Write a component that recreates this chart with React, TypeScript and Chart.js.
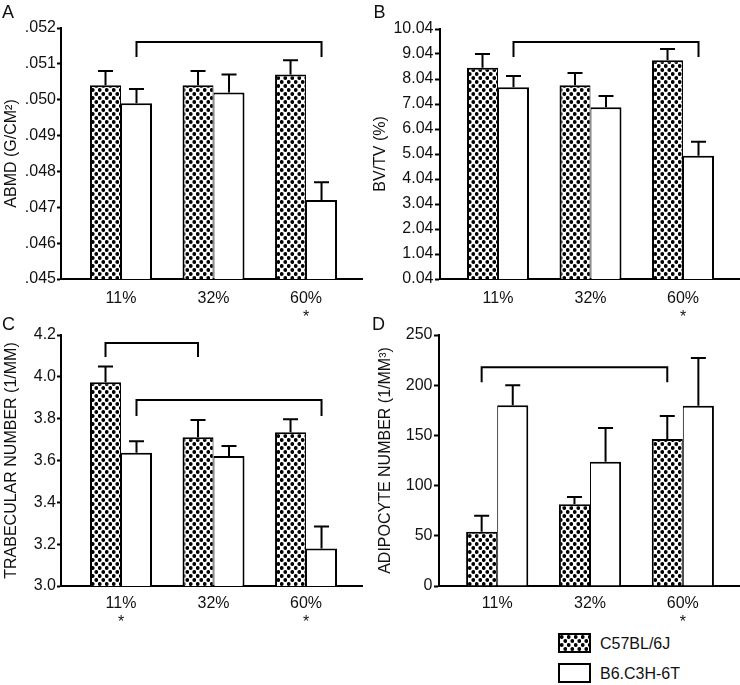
import React, { useEffect, useRef } from 'react';
import { Chart, registerables } from 'chart.js';

Chart.register(...registerables);

const FONT = '"Liberation Sans", Arial, Helvetica, sans-serif';
const INK = '#111';

const categories = ['11%', '32%', '60%'];
const seriesNames = ['C57BL/6J', 'B6.C3H-6T'];

// Panel A – ABMD
const abmdC57 = [0.0504, 0.0504, 0.0507];
const abmdC57Sem = [0.0004, 0.0004, 0.0004];
const abmdB6 = [0.0499, 0.0502, 0.0472];
const abmdB6Sem = [0.0004, 0.0005, 0.0005];
const abmdStars = [false, false, true];
const abmdBrackets = [[1, 0, 2, 0.05161, 0.05119]];

// Panel B – BV/TV
const bvtvC57 = [8.49, 7.79, 8.79];
const bvtvC57Sem = [0.55, 0.49, 0.45];
const bvtvB6 = [7.71, 6.91, 4.97];
const bvtvB6Sem = [0.45, 0.45, 0.56];
const bvtvStars = [false, false, true];
const bvtvBrackets = [[1, 0, 2, 9.52, 8.92]];

// Panel C – Trabecular number
const tbnC57 = [3.974, 3.711, 3.735];
const tbnC57Sem = [0.075, 0.083, 0.062];
const tbnB6 = [3.637, 3.622, 3.179];
const tbnB6Sem = [0.055, 0.047, 0.105];
const tbnStars = [true, false, true];
const tbnBrackets = [
  [0, 0, 1, 4.162, 4.095],
  [1, 0, 2, 3.889, 3.813],
];

// Panel D – Adipocyte number
const adipoC57 = [54.1, 81.4, 146.4];
const adipoC57Sem = [15.9, 7.2, 22.9];
const adipoB6 = [180, 123.8, 179.6];
const adipoB6Sem = [20, 33.6, 47.5];
const adipoStars = [false, false, true];
const adipoBrackets = [[0, 0, 2, 218, 203]];

type Panel = {
  letter: string;
  left: number;
  top: number;
  w: number;
  h: number;
  padTop: number;
  padRight: number;
  yWidth: number;
  xHeight: number;
  xMin: number;
  xMax: number;
  xPad: number;
  yMin: number;
  yMax: number;
  yStep: number;
  fmt: (v: number) => string;
  title: string;
  titlePad: number;
  tickLen: number;
  tickPad: number;
  c57: number[];
  c57Sem: number[];
  b6: number[];
  b6Sem: number[];
  stars: boolean[];
  brackets: number[][];
  letterLeft: number;
  letterTop: number;
};

const panels: Panel[] = [
  {
    letter: 'A', left: 0, top: 0, w: 370, h: 320, padTop: 28, padRight: 8, yWidth: 61, xHeight: 41,
    xMin: 0.3514, xMax: 3.605, xPad: 9.5, yMin: 0.045, yMax: 0.052, yStep: 0.001,
    fmt: (v) => v.toFixed(3).replace(/^0/, ''), title: 'ABMD (G/CM²)', titlePad: 2.4, tickLen: 4, tickPad: 1,
    c57: abmdC57, c57Sem: abmdC57Sem, b6: abmdB6, b6Sem: abmdB6Sem, stars: abmdStars, brackets: abmdBrackets,
    letterLeft: 2, letterTop: 3,
  },
  {
    letter: 'B', left: 370, top: 0, w: 370, h: 320, padTop: 29, padRight: 0, yWidth: 70, xHeight: 41,
    xMin: 0.373, xMax: 3.616, xPad: 9.5, yMin: 0.04, yMax: 10.04, yStep: 1,
    fmt: (v) => v.toFixed(2), title: 'BV/TV (%)', titlePad: 1.4, tickLen: 5, tickPad: 1.5,
    c57: bvtvC57, c57Sem: bvtvC57Sem, b6: bvtvB6, b6Sem: bvtvB6Sem, stars: bvtvStars, brackets: bvtvBrackets,
    letterLeft: 373.5, letterTop: 3,
  },
  {
    letter: 'C', left: 0, top: 310, w: 370, h: 320, padTop: 25, padRight: 8, yWidth: 61, xHeight: 44,
    xMin: 0.3514, xMax: 3.605, xPad: 7.5, yMin: 3.0, yMax: 4.2, yStep: 0.2,
    fmt: (v) => v.toFixed(1), title: 'TRABECULAR NUMBER (1/MM)', titlePad: 2.4, tickLen: 4, tickPad: 1,
    c57: tbnC57, c57Sem: tbnC57Sem, b6: tbnB6, b6Sem: tbnB6Sem, stars: tbnStars, brackets: tbnBrackets,
    letterLeft: 2, letterTop: 315,
  },
  {
    letter: 'D', left: 370, top: 310, w: 370, h: 320, padTop: 25, padRight: 0, yWidth: 69, xHeight: 44,
    xMin: 0.373, xMax: 3.616, xPad: 7.5, yMin: 0, yMax: 250, yStep: 50,
    fmt: (v) => String(Math.round(v)), title: 'ADIPOCYTE NUMBER (1/MM³)', titlePad: 6.4, tickLen: 5, tickPad: 1.5,
    c57: adipoC57, c57Sem: adipoC57Sem, b6: adipoB6, b6Sem: adipoB6Sem, stars: adipoStars, brackets: adipoBrackets,
    letterLeft: 372, letterTop: 315,
  },
];

function dotPattern(ctx: CanvasRenderingContext2D): CanvasPattern | string {
  const c = document.createElement('canvas');
  c.width = 7;
  c.height = 8;
  const g = c.getContext('2d');
  if (!g) return '#555';
  g.fillStyle = '#fff';
  g.fillRect(0, 0, 7, 8);
  g.fillStyle = '#000';
  const dots = [
    [1.75, 2],
    [5.25, 6],
  ];
  for (const [x, y] of dots) {
    g.beginPath();
    g.arc(x, y, 1.9, 0, Math.PI * 2);
    g.fill();
  }
  return ctx.createPattern(c, 'repeat') || '#555';
}

function annotations(sems: number[][], brackets: number[][]) {
  return {
    id: 'errAndBrackets',
    afterDatasetsDraw(chart: any) {
      const ctx: CanvasRenderingContext2D = chart.ctx;
      const ys = chart.scales.y;
      ctx.save();
      ctx.strokeStyle = '#000';
      ctx.lineWidth = 2;
      ctx.lineCap = 'butt';
      ctx.lineJoin = 'miter';
      chart.data.datasets.forEach((ds: any, di: number) => {
        const meta = chart.getDatasetMeta(di);
        meta.data.forEach((el: any, i: number) => {
          const v = ds.data[i].y;
          const base = ys.getPixelForValue(v);
          const top = ys.getPixelForValue(v + sems[di][i]);
          const x = el.x;
          ctx.beginPath();
          ctx.moveTo(x, base);
          ctx.lineTo(x, top);
          ctx.moveTo(x - 7.5, top);
          ctx.lineTo(x + 7.5, top);
          ctx.stroke();
        });
      });
      brackets.forEach(([di, from, to, yTop, yEnd]) => {
        const meta = chart.getDatasetMeta(di);
        const x1 = meta.data[from].x;
        const x2 = meta.data[to].x;
        const pt = ys.getPixelForValue(yTop);
        const pe = ys.getPixelForValue(yEnd);
        ctx.beginPath();
        ctx.moveTo(x1, pe);
        ctx.lineTo(x1, pt);
        ctx.lineTo(x2, pt);
        ctx.lineTo(x2, pe);
        ctx.stroke();
      });
      ctx.restore();
    },
  };
}

export default function App() {
  const canvasRefs = useRef<(HTMLCanvasElement | null)[]>([]);
  const swatchRef = useRef<HTMLCanvasElement | null>(null);

  useEffect(() => {
    const charts: Chart[] = [];
    panels.forEach((p, k) => {
      const canvas = canvasRefs.current[k];
      if (!canvas) return;
      const ctx = canvas.getContext('2d');
      if (!ctx) return;
      const pattern = dotPattern(ctx);
      const chart = new Chart(canvas, {
        type: 'bar',
        data: {
          datasets: [
            {
              label: seriesNames[0],
              data: p.c57.map((v, i) => ({ x: i + 1, y: v })),
              backgroundColor: pattern as any,
              borderColor: '#000',
              borderWidth: { top: 2, left: 2, right: 1, bottom: 0 } as any,
              categoryPercentage: 0.67,
              barPercentage: 1.0,
            },
            {
              label: seriesNames[1],
              data: p.b6.map((v, i) => ({ x: i + 1, y: v })),
              backgroundColor: '#fff',
              borderColor: '#000',
              borderWidth: { top: 2, left: 1, right: 2, bottom: 0 } as any,
              categoryPercentage: 0.67,
              barPercentage: 1.0,
            },
          ] as any,
        },
        options: {
          animation: false,
          responsive: false,
          devicePixelRatio: 1,
          events: [],
          layout: { padding: { left: 0, top: p.padTop, right: p.padRight, bottom: 0 } },
          plugins: { legend: { display: false }, tooltip: { enabled: false } },
          scales: {
            x: {
              type: 'linear',
              min: p.xMin,
              max: p.xMax,
              offset: false,
              grid: { display: false, drawTicks: false },
              border: { display: true, color: '#000', width: 2 },
              afterBuildTicks: (s: any) => {
                s.ticks = categories.map((_, i) => ({ value: i + 1 }));
              },
              afterFit: (s: any) => {
                s.height = p.xHeight;
              },
              ticks: {
                autoSkip: false,
                maxRotation: 0,
                padding: p.xPad,
                color: INK,
                font: { family: FONT, size: 16, lineHeight: 1.2 },
                callback: (v: any) => {
                  const i = Math.round(Number(v)) - 1;
                  return p.stars[i] ? [categories[i], '*'] : categories[i];
                },
              },
            },
            y: {
              type: 'linear',
              min: p.yMin,
              max: p.yMax,
              grid: {
                display: true,
                drawOnChartArea: false,
                drawTicks: true,
                tickLength: p.tickLen,
                tickWidth: 2,
                tickColor: '#000',
              },
              border: { display: true, color: '#000', width: 2 },
              afterFit: (s: any) => {
                s.width = p.yWidth;
              },
              ticks: {
                stepSize: p.yStep,
                padding: p.tickPad,
                color: INK,
                font: { family: FONT, size: 16 },
                callback: (v: any) => p.fmt(Number(v)),
              },
              title: {
                display: true,
                text: p.title,
                color: INK,
                font: { family: FONT, size: 16, lineHeight: 1.2 },
                padding: { top: p.titlePad, bottom: 0 },
              },
            },
          },
        } as any,
        plugins: [annotations([p.c57Sem, p.b6Sem], p.brackets)],
      });
      charts.push(chart);
    });

    const sw = swatchRef.current;
    if (sw) {
      const g = sw.getContext('2d');
      if (g) {
        g.fillStyle = dotPattern(g) as any;
        g.fillRect(0, 0, sw.width, sw.height);
      }
    }

    return () => {
      charts.forEach((c) => c.destroy());
    };
  }, []);

  const letterStyle = (left: number, top: number): React.CSSProperties => ({
    position: 'absolute',
    left,
    top,
    fontFamily: FONT,
    fontSize: 18,
    lineHeight: '18px',
    color: INK,
  });

  const legendText = (top: number): React.CSSProperties => ({
    position: 'absolute',
    left: 600,
    top,
    fontFamily: FONT,
    fontSize: 16,
    lineHeight: '20px',
    color: INK,
    whiteSpace: 'nowrap',
  });

  return (
    <div style={{ position: 'absolute', left: 0, top: 0, width: 740, height: 685, background: '#fff', overflow: 'hidden' }}>
      {panels.map((p, k) => (
        <canvas
          key={p.letter}
          ref={(el) => {
            canvasRefs.current[k] = el;
          }}
          width={p.w}
          height={p.h}
          style={{ position: 'absolute', left: p.left, top: p.top, width: p.w, height: p.h }}
        />
      ))}
      {panels.map((p) => (
        <div key={'L' + p.letter} style={letterStyle(p.letterLeft, p.letterTop)}>
          {p.letter}
        </div>
      ))}
      <div
        style={{
          position: 'absolute',
          left: 558,
          top: 633,
          width: 33,
          height: 20,
          boxSizing: 'border-box',
          border: '2px solid #000',
          overflow: 'hidden',
        }}
      >
        <canvas ref={swatchRef} width={29} height={16} style={{ display: 'block' }} />
      </div>
      <div style={legendText(634)}>{seriesNames[0]}</div>
      <div
        style={{
          position: 'absolute',
          left: 558,
          top: 663,
          width: 33,
          height: 20,
          boxSizing: 'border-box',
          border: '2px solid #000',
          background: '#fff',
        }}
      />
      <div style={legendText(664)}>{seriesNames[1]}</div>
    </div>
  );
}
